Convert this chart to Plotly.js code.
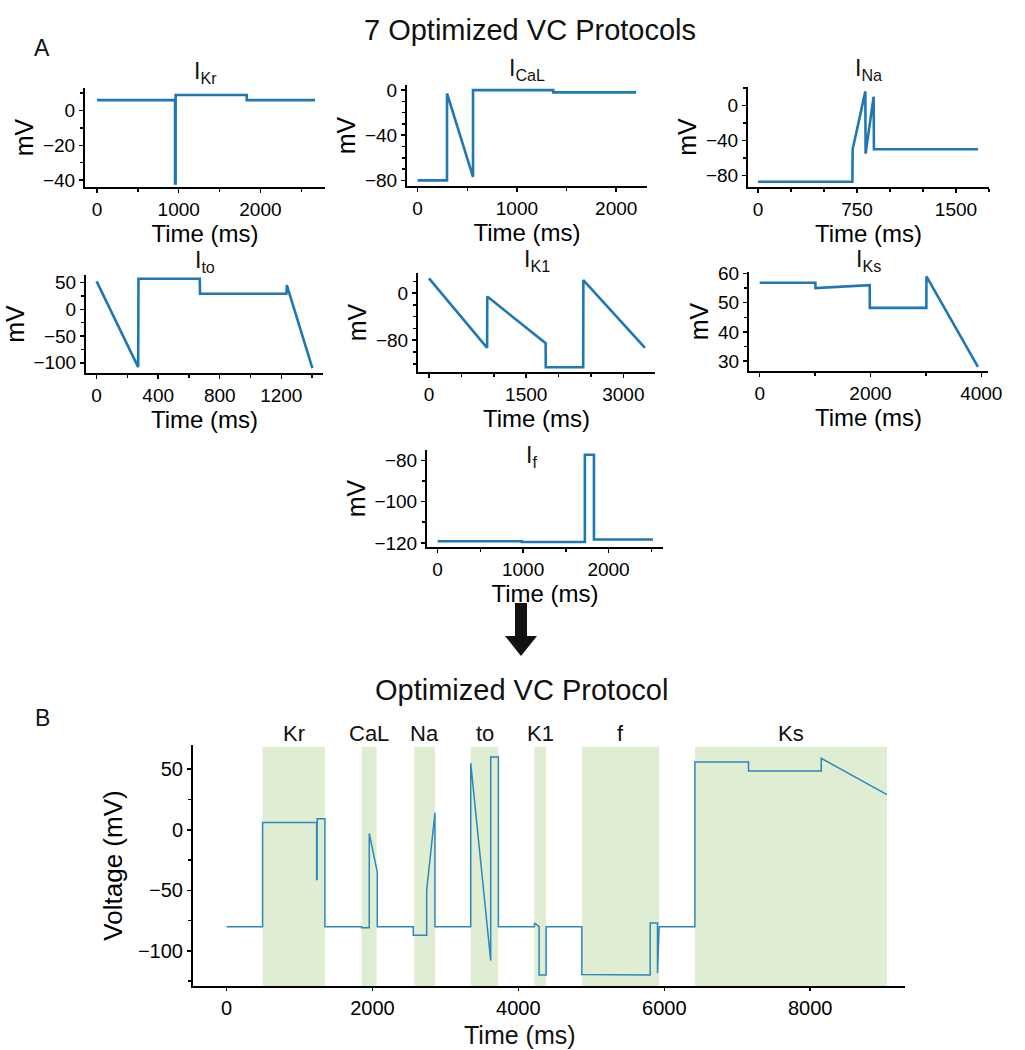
<!DOCTYPE html>
<html>
<head>
<meta charset="utf-8">
<script src="https://cdn.plot.ly/plotly-3.0.1.min.js"></script>
<style>html,body{margin:0;padding:0;background:#fff}#fig{width:1025px;height:1050px}</style>
</head>
<body>
<div id="fig"></div>
<script>
// Panel A: the seven single-current protocols (time in ms, voltage in mV)
const ikrT=[0,955,955,962,962,1832,1832,2668];
const ikrV=[6,6,-42,-42,9,9,6,6];
const calT=[0,296,296,558,558,1366,1366,2200];
const calV=[-80,-80,-3,-77,0,0,-2,-2];
const naT=[0,715,717,813,815,876,878,1667];
const naV=[-87,-87,-50,16,-55,10,-50,-50];
const itoT=[0,270,272,670,672,1233,1236,1402];
const itoV=[52,-108,57,57,29,29,45,-110];
const ik1T=[0,897,899,1800,1802,2380,2382,3334];
const ik1V=[25,-93,-6,-85,-126,-126,22,-93];
const iksT=[0,1005,1007,1986,1988,3008,3010,3940];
const iksV=[56.8,56.8,55,56,48.2,48.2,59,28];
const ifT=[0,985,985,1723,1723,1829,1829,2520];
const ifV=[-119.2,-119.2,-119.6,-119.6,-77.3,-77.3,-118.4,-118.4];

// Panel B: the combined protocol
const protoT=[0,494,494,1235,1235,1242,1242,1348,1348,
  1852,1852,1956,1956,2066,2066,
  2560,2560,2743,2743,2857,2857,
  3347,3347,3621,3621,3726,3726,
  4220,4222,4270,4284,4284,4380,4380,
  4870,4870,5400,5400,5807,5807,5907,5907,5930,
  6420,6420,7155,7155,8152,8152,9053];
const protoV=[-80,-80,6,6,-41,-41,9,9,-80,
  -80,-81,-81,-3,-35,-80,
  -80,-87,-87,-50,14,-80,
  -80,55,-108,60,60,-80,
  -80,-77,-80,-80,-120,-120,-80,
  -80,-119.5,-119.5,-120,-120,-77,-77,-118.5,-80,
  -80,56,56,48.6,48.6,59,29];

const regionNames=['Kr','CaL','Na','to','K1','f','Ks'];
const regionStart=[494,1852,2574,3347,4220,4870,6420];
const regionEnd=[1348,2058,2857,3726,4380,5930,9053];

const W=1025,H=1050;
const font='"Liberation Sans", Arial, sans-serif';
const fx=p=>p/W, fy=p=>1-p/H;

// layout boxes in pixels [left,top,right,bottom]
const panels=[
  {t:ikrT,v:ikrV,name:'Kr',box:[85,88,325,187],xr:[-147,2790],yr:[-44,13],xd:1000,xm:500,yd:20,ym:10,ty:89,tx:0},
  {t:calT,v:calV,name:'CaL',box:[407,85,647,186],xr:[-107,2310],yr:[-85,4.5],xd:1000,xm:500,yd:40,ym:10,ty:86,tx:0},
  {t:naT,v:naV,name:'Na',box:[748,87,989,187],xr:[-76,1750],yr:[-93,21],xd:750,xm:250,yd:40,ym:20,ty:86,tx:0},
  {t:itoT,v:itoV,name:'to',box:[86,275,323,373],xr:[-69,1471],yr:[-119,64],xd:400,xm:200,yd:50,ym:25,ty:278,tx:0},
  {t:ik1T,v:ik1V,name:'K1',box:[418,273,655,372],xr:[-170,3488],yr:[-134,34],xd:1500,xm:500,yd:80,ym:20,ty:277,tx:0},
  {t:iksT,v:iksV,name:'Ks',box:[749,272,988,371],xr:[-193,4121],yr:[26.6,60.5],xd:2000,xm:1000,yd:10,ym:5,ty:277,tx:0},
  {t:ifT,v:ifV,name:'f',box:[427,450,663,547],xr:[-124,2637],yr:[-122,-75],xd:1000,xm:500,yd:20,ym:10,ty:473,tx:-14}
];

const axisBase={showline:true,linecolor:'#000',linewidth:2,ticks:'outside',ticklen:4,tickwidth:1.5,tickcolor:'#000',
  showgrid:false,zeroline:false,tickfont:{family:font,size:19,color:'#000'},fixedrange:true};
const minorTicks=d=>({ticks:'outside',ticklen:3,tickcolor:'#000',dtick:d,tick0:0,showgrid:false});

const traces=[];
const layout={width:W,height:H,margin:{l:0,r:0,t:0,b:0},paper_bgcolor:'#fff',plot_bgcolor:'rgba(0,0,0,0)',
  showlegend:false,font:{family:font,color:'#000'},annotations:[],shapes:[]};
const note=(x,y,text,size,extra)=>Object.assign({xref:'paper',yref:'paper',x:fx(x),y:fy(y),xanchor:'center',yanchor:'middle',
  text,showarrow:false,font:{family:font,size,color:'#111'}},extra||{});

panels.forEach((p,i)=>{
  const n=i+1, sfx=n===1?'':n;
  traces.push({x:p.t,y:p.v,xaxis:'x'+sfx,yaxis:'y'+sfx,type:'scatter',mode:'lines',
    line:{color:'#1f77b4',width:2.6},hoverinfo:'skip'});
  layout['xaxis'+sfx]=Object.assign({},axisBase,{domain:[fx(p.box[0]),fx(p.box[2])],range:p.xr,anchor:'y'+sfx,
    dtick:p.xd,tick0:0,minor:minorTicks(p.xm),title:{text:'Time (ms)',font:{family:font,size:24},standoff:0}});
  layout['yaxis'+sfx]=Object.assign({},axisBase,{domain:[fy(p.box[3]),fy(p.box[1])],range:p.yr,anchor:'x'+sfx,
    dtick:p.yd,tick0:0,minor:minorTicks(p.ym),title:{text:'mV',font:{family:font,size:25},standoff:2}});
  layout.annotations.push(note((p.box[0]+p.box[2])/2+p.tx,p.ty,'I<sub>'+p.name+'</sub>',23,{yanchor:'bottom'}));
});

// Panel B
const bBox=[193,745,905,986];
traces.push({x:protoT,y:protoV,xaxis:'x8',yaxis:'y8',type:'scatter',mode:'lines',
  line:{color:'#2b87bd',width:1.5},hoverinfo:'skip'});
layout.xaxis8=Object.assign({},axisBase,{domain:[fx(bBox[0]),fx(bBox[2])],range:[-460,9300],anchor:'y8',dtick:2000,tick0:0,
  ticklen:3,tickfont:{family:font,size:20,color:'#000'}});
layout.yaxis8=Object.assign({},axisBase,{domain:[fy(bBox[3]),fy(bBox[1])],range:[-129,70],anchor:'x8',dtick:50,tick0:0,
  tickfont:{family:font,size:20,color:'#000'},minor:minorTicks(25),
  title:{text:'Voltage (mV)',font:{family:font,size:26},standoff:8}});

regionNames.forEach((nm,i)=>{
  layout.shapes.push({type:'rect',xref:'x8',yref:'y8 domain',x0:regionStart[i],x1:regionEnd[i],y0:0,y1:0.993,
    fillcolor:'#dfeed3',line:{width:0},layer:'below'});
  layout.annotations.push({xref:'x8',yref:'paper',x:(regionStart[i]+regionEnd[i])/2,y:fy(733),xanchor:'center',yanchor:'middle',
    text:nm,showarrow:false,font:{family:font,size:22,color:'#111'}});
});

// arrow between A and B
const ax=521;
layout.shapes.push({type:'path',xref:'paper',yref:'paper',fillcolor:'#111',line:{width:0},
  path:`M ${fx(ax-6)},${fy(603)} L ${fx(ax+6)},${fy(603)} L ${fx(ax+6)},${fy(636)} L ${fx(ax+16)},${fy(636)} L ${fx(ax)},${fy(656)} L ${fx(ax-16)},${fy(636)} L ${fx(ax-6)},${fy(636)} Z`});

// figure titles, panel letters and the x title of panel B
layout.annotations.push(
  note(530,30,'7 Optimized VC Protocols',29),
  note(521,690,'Optimized VC Protocol',29),
  note(42,48,'A',23),
  note(42,718,'B',23),
  note(520,1035,'Time (ms)',25)
);

Plotly.newPlot('fig',traces,layout,{staticPlot:true,displayModeBar:false});
</script>
</body>
</html>
